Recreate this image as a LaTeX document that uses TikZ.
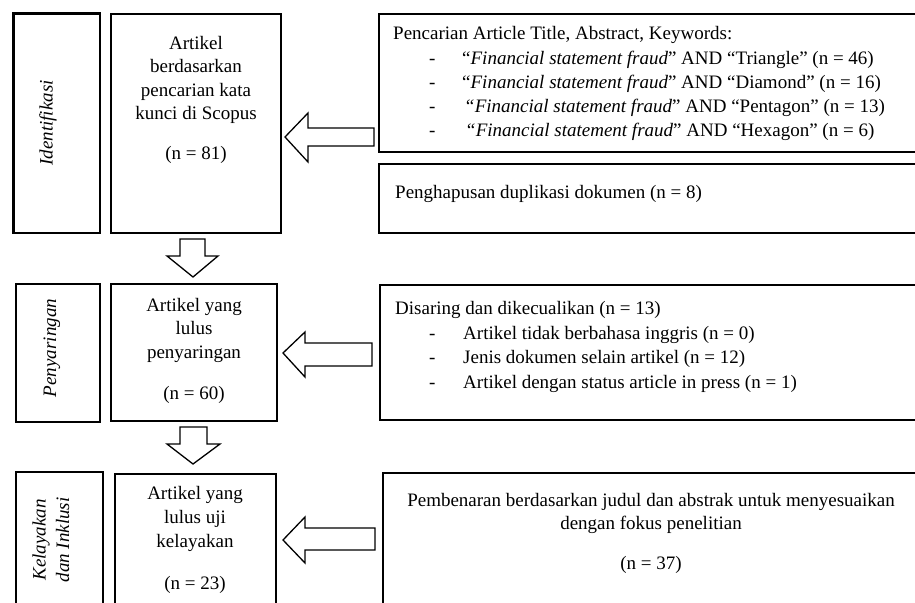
\documentclass[tikz,border=0pt]{standalone}
\usepackage{fontspec}
\setmainfont{Liberation Serif}
\newcommand{\fs}{\fontsize{19}{23.5}\selectfont}
\begin{document}
\begin{tikzpicture}[x=1pt,y=-1pt,
  box/.style={draw=black,line width=2.2pt},
  blk/.style={draw=black,line width=1.3pt,fill=white,line join=miter},
  ct/.style={anchor=base,inner sep=0pt,font=\fs},
  lt/.style={anchor=base west,inner sep=0pt,font=\fs},
  rot/.style={rotate=90,inner sep=0pt,font=\fs\itshape,align=center}]
\useasboundingbox (0,0) rectangle (915,602);
\clip (0,0) rectangle (915,602);
% boxes
\draw[box] (13.5,13.5) rectangle (100,233);
\draw[box] (111,14) rectangle (281,233);
\draw[box] (379,14) rectangle (930,152);
\draw[box] (379,164) rectangle (930,233);
\draw[box] (16,284) rectangle (100,422);
\draw[box] (111,284) rectangle (277,421);
\draw[box] (380,285) rectangle (930,420);
\draw[box] (16,472) rectangle (103,640);
\draw[box] (115,474) rectangle (276,640);
\draw[box] (383,473) rectangle (930,640);
% block arrows (left)
\draw[blk] (285,137) -- (308,113) -- (308,128) -- (374,128) -- (374,146) -- (308,146) -- (308,162) -- cycle;
\draw[blk] (283,353) -- (305,332) -- (305,343) -- (372,343) -- (372,366) -- (305,366) -- (305,377) -- cycle;
\draw[blk] (283,540) -- (305,517) -- (305,528) -- (375,528) -- (375,550) -- (305,550) -- (305,563) -- cycle;
% block arrows (down)
\draw[blk] (180,239) -- (205,239) -- (205,256) -- (218,256) -- (193,277) -- (167,256) -- (180,256) -- cycle;
\draw[blk] (180,427) -- (207,427) -- (207,444) -- (220,444) -- (193,464) -- (167,444) -- (180,444) -- cycle;
% side labels
\node[rot] (lid) at (48,123) {Identifikasi};
\node[rot] (lpen) at (52,348) {Penyaringan};
\node[rot] (lkel) at (51,540) {Kelayakan\\dan Inklusi};
% box 1 text
\node[ct] (a1) at (196,49) {Artikel};
\node[ct] (a2) at (196,72.5) {berdasarkan};
\node[ct] (a3) at (196,96) {pencarian kata};
\node[ct] (a4) at (196,119.5) {kunci di Scopus};
\node[ct] (a5) at (196,159) {(n = 81)};
% box 2 text
\node[ct] (b1) at (194,311) {Artikel yang};
\node[ct] (b2) at (194,334.5) {lulus};
\node[ct] (b3) at (194,358) {penyaringan};
\node[ct] (b4) at (194,399) {(n = 60)};
% box 3 text
\node[ct] (c1) at (195,499) {Artikel yang};
\node[ct] (c2) at (195,523) {lulus uji};
\node[ct] (c3) at (195,547) {kelayakan};
\node[ct] (c4) at (195,589) {(n = 23)};
% search box
\node[lt] (s0) at (393,40) {Pencarian Article Title, Abstract, Keywords:};
\node[lt] (sd1) at (429,65) {-};
\node[lt] (sd2) at (429,88.5) {-};
\node[lt] (sd3) at (429,112) {-};
\node[lt] (sd4) at (429,136) {-};
\node[lt] (s1) at (462,65) {“\textit{Financial statement fraud}” AND “Triangle” (n = 46)};
\node[lt] (s2) at (462,88.5) {“\textit{Financial statement fraud}” AND “Diamond” (n = 16)};
\node[lt] (s3) at (464,112) {\textit{“Financial statement fraud}” AND “Pentagon” (n = 13)};
\node[lt] (s4) at (465,136) {\textit{“Financial statement fraud}” AND “Hexagon” (n = 6)};
% duplicate box
\node[lt] (dup) at (395,198) {Penghapusan duplikasi dokumen (n = 8)};
% screening box
\node[lt] (d0) at (395,314) {Disaring dan dikecualikan (n = 13)};
\node[lt] (dd1) at (429,339) {-};
\node[lt] (dd2) at (429,363) {-};
\node[lt] (dd3) at (429,388) {-};
\node[lt] (d1) at (463,339) {Artikel tidak berbahasa inggris (n = 0)};
\node[lt] (d2) at (463,363) {Jenis dokumen selain artikel (n = 12)};
\node[lt] (d3) at (463,388) {Artikel dengan status article in press (n = 1)};
% eligibility box
\node[ct] (p1) at (651,506) {Pembenaran berdasarkan judul dan abstrak untuk menyesuaikan};
\node[ct] (p2) at (651,529) {dengan fokus penelitian};
\node[ct] (p3) at (651,569) {(n = 37)};
\end{tikzpicture}
\end{document}
